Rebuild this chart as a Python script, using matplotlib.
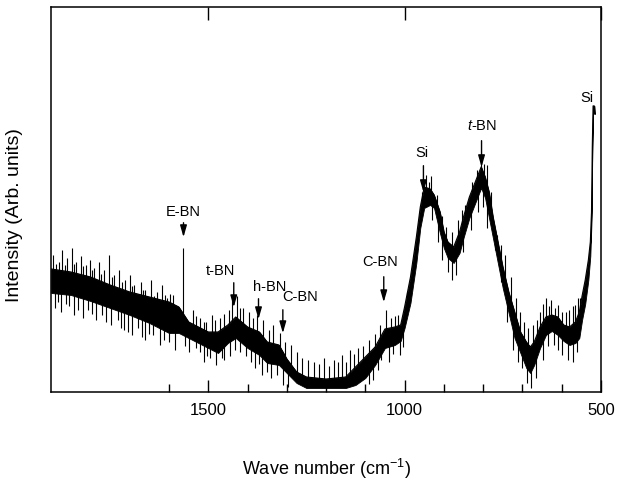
import numpy as np
import matplotlib
matplotlib.use('Agg')
import matplotlib.pyplot as plt
from matplotlib.ticker import FixedLocator

plt.rcParams['font.family'] = ['Liberation Sans', 'DejaVu Sans']
plt.rcParams['mathtext.fontset'] = 'custom'
plt.rcParams['mathtext.it'] = 'Liberation Sans:italic'
plt.rcParams['mathtext.rm'] = 'Liberation Sans'

# Raman spectrum (intensity in arbitrary units)
# dense noise band: wave number, lower edge, upper edge
wn = [1900, 1850, 1800, 1750, 1700, 1650, 1600, 1575, 1550, 1500, 1475, 1450,
      1430, 1400, 1370, 1350, 1320, 1300, 1275, 1250, 1200, 1150, 1125, 1100,
      1075, 1050, 1025, 1010, 1000, 985, 970, 960, 950, 935, 925, 910, 900,
      890, 875, 860, 850, 835, 820, 805, 795, 785, 775, 760, 750, 735, 720,
      705, 690, 680, 670, 655, 640, 625, 610, 595, 580, 565, 555, 548, 540,
      532, 527, 524, 522, 520, 517, 516]
low = [99, 97, 91, 84, 77, 69, 59, 59, 54, 44, 39, 49,
       54, 44, 37, 29, 27, 19, 9, 4, 4, 4, 7, 14,
       27, 44, 47, 51, 64, 89, 129, 164, 184, 187, 184, 159, 144,
       134, 129, 139, 154, 174, 189, 204, 194, 174, 154, 124, 104, 79, 54,
       39, 24, 19, 27, 44, 57, 61, 57, 51, 47, 49, 54, 72, 88,
       112, 136, 170, 240, 286, 286, 278]
high = [123, 120, 115, 107, 100, 95, 90, 85, 70, 60, 60, 67,
        75, 65, 60, 50, 47, 33, 20, 15, 13, 15, 25, 35,
        45, 63, 65, 67, 85, 115, 155, 185, 205, 203, 197, 180, 160,
        150, 145, 160, 175, 195, 210, 225, 215, 200, 175, 145, 125, 100, 80,
        60, 50, 45, 50, 65, 75, 77, 75, 67, 65, 70, 80, 96, 112,
        132, 150, 180, 245, 286, 286, 278]

# single noise spikes above / below the band: wave number, tip intensity
up_wn = [1895, 1888, 1880, 1872, 1866, 1860, 1848, 1843, 1838, 1825, 1818, 1812,
         1800, 1795, 1790, 1778, 1772, 1765, 1752, 1746, 1740, 1728, 1720, 1712,
         1700, 1694, 1688, 1672, 1666, 1660, 1645, 1637, 1630, 1618, 1611, 1605,
         1597, 1590, 1565, 1540, 1532, 1520, 1512, 1505, 1490, 1482, 1470, 1460,
         1448, 1440, 1428, 1420, 1412, 1395, 1386, 1375, 1360, 1345, 1335, 1318,
         1305, 1290, 1275, 1260, 1245, 1230, 1218, 1205, 1192, 1180, 1170, 1160,
         1150, 1140, 1128, 1118, 1105, 1090, 1075, 1062, 1048, 1035, 1025, 1018,
         995, 978, 955, 945, 938, 932, 918, 905, 895, 880, 865, 855, 845, 828,
         815, 806, 798, 790, 780, 765, 755, 745, 730, 715, 705, 695, 685, 672,
         662, 655, 647, 640, 633, 628, 618, 610, 600, 590, 580, 572, 565, 558,
         552]
up_tip = [137, 128, 130, 142, 127, 134, 144, 128, 130, 136, 126, 127,
          132, 122, 124, 130, 118, 122, 137, 115, 117, 122, 110, 112,
          117, 106, 107, 110, 102, 102, 112, 96, 100, 107, 97, 94,
          98, 97, 144, 82, 76, 74, 70, 70, 77, 72, 74, 78,
          82, 92, 96, 84, 84, 80, 74, 77, 72, 62, 67, 59,
          50, 47, 40, 34, 32, 30, 28, 34, 26, 32, 30, 37,
          30, 42, 38, 44, 46, 52, 58, 67, 82, 74, 76, 77,
          100, 130, 200, 217, 210, 216, 197, 176, 165, 160, 172, 182, 187, 210,
          222, 237, 228, 227, 200, 157, 147, 137, 115, 94, 80, 70, 64, 67,
          72, 80, 88, 94, 86, 92, 84, 87, 80, 80, 82, 86, 87, 94,
          94]
dn_wn = [1890, 1882, 1875, 1863, 1855, 1842, 1832, 1820, 1805, 1797, 1785, 1770,
         1760, 1748, 1730, 1722, 1715, 1705, 1695, 1680, 1668, 1660, 1650, 1640,
         1622, 1612, 1600, 1585, 1558, 1548, 1530, 1522, 1512, 1502, 1495, 1480,
         1465, 1460, 1445, 1432, 1418, 1405, 1392, 1380, 1370, 1362, 1350, 1340,
         1325, 1310, 1298, 1090, 1080, 1068, 1060, 1040, 1030, 1012, 1005, 930,
         915, 905, 890, 878, 870, 850, 830, 812, 800, 790, 770, 755, 740, 725,
         710, 700, 688, 678, 665, 648, 635, 620, 610, 600, 585, 572, 560]
dn_tip = [84, 90, 80, 88, 86, 77, 82, 74, 82, 78, 72, 77,
          70, 67, 72, 64, 62, 60, 57, 64, 55, 52, 58, 57,
          47, 52, 50, 42, 46, 40, 44, 40, 30, 36, 34, 27,
          34, 32, 36, 42, 40, 36, 30, 24, 28, 17, 20, 14,
          17, 7, 5, 8, 12, 22, 32, 30, 38, 37, 45, 172,
          150, 132, 120, 112, 117, 140, 162, 180, 185, 164, 142, 110, 70, 42,
          30, 24, 9, 4, 14, 32, 46, 47, 42, 37, 32, 30, 40]

# peak labels: text, peak position, arrow tail, arrow tip, text position
labels = ['E-BN', 't-BN', 'h-BN', 'C-BN', 'C-BN', 'Si', '$t$-BN', 'Si']
lab_wn = [1563, 1435, 1372, 1310, 1053, 952, 804]
tail = [172, 112, 96, 85, 118, 229, 254]
tip = [152, 82, 70, 56, 87, 197, 222]
text_wn = [1563, 1470, 1344, 1265, 1061, 957, 804, 535]
text_y = [180, 121, 105, 95, 130, 239, 266, 294]

fig = plt.figure(figsize=(6.24, 4.90), dpi=100)
ax = fig.add_axes([0.082, 0.2, 0.881, 0.786])

ax.fill_between(wn, low, high, color='black', lw=0.6)
mid = (np.array(low) + np.array(high)) / 2
up_base = np.interp(up_wn, wn[::-1], mid[::-1])
dn_base = np.interp(dn_wn, wn[::-1], mid[::-1])
ax.vlines(up_wn, up_base, up_tip, color='black', lw=0.8)
ax.vlines(dn_wn, dn_tip, dn_base, color='black', lw=0.8)
ax.plot(wn, high, color='black', lw=0.8)

for x, y0, y1 in zip(lab_wn, tail, tip):
    ax.annotate('', xy=(x, y1), xytext=(x, y0),
                arrowprops=dict(arrowstyle='-|>,head_width=0.2,head_length=0.7',
                                color='black', lw=1.0))
for t, tx, ty in zip(labels, text_wn, text_y):
    ax.text(tx, ty, t, ha='center', va='center', fontsize=10.5)

ax.set_xlim(1900, 500)
ax.set_ylim(0, 385)
ax.xaxis.set_major_locator(FixedLocator([1500, 1000, 500]))
ax.xaxis.set_minor_locator(FixedLocator([1600, 1400, 1300, 1200, 1100, 900, 800, 700, 600]))
ax.tick_params(axis='x', which='major', direction='in', length=9, width=1.0,
               top=True, labelsize=12, pad=8)
ax.tick_params(axis='x', which='minor', direction='in', length=6, width=1.0)
ax.set_yticks([])
for s in ax.spines.values():
    s.set_linewidth(1.1)

ax.set_xlabel('Wave number (cm$^{-1}$)', fontsize=13, labelpad=28)
ax.set_ylabel('Intensity (Arb. units)', fontsize=14)
ax.yaxis.set_label_coords(-0.052, 0.46)

fig.savefig('out.png', dpi=100)
